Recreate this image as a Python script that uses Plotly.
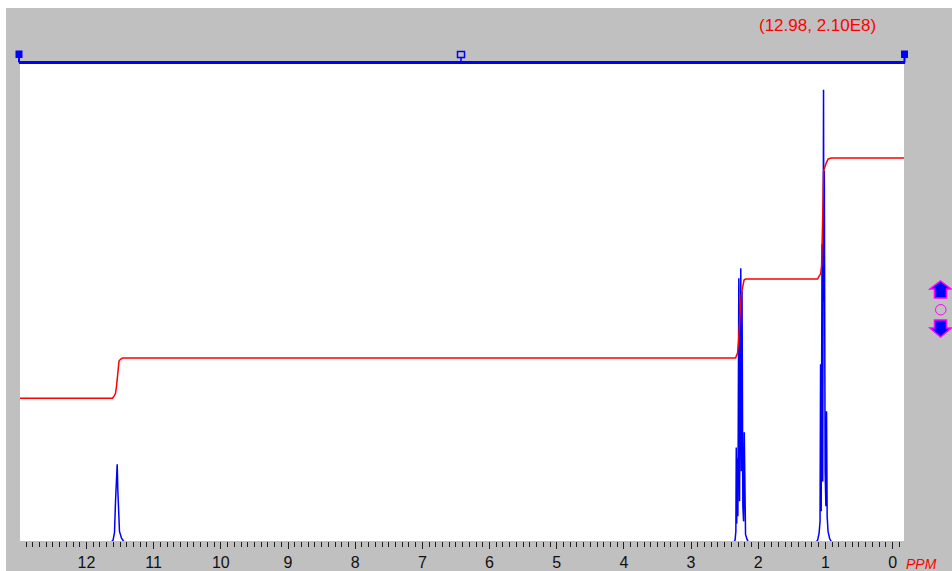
import plotly.graph_objects as go

# ---------------- data ----------------
# 1H NMR trace, chemical shift (ppm) vs intensity (units of 1e8)
cooh_ppm = [11.643, 11.605, 11.583, 11.568, 11.553, 11.543, 11.533, 11.524, 11.509, 11.479, 11.434]
cooh_int = [0.000, 0.009, 0.044, 0.180, 0.311, 0.342, 0.224, 0.114, 0.048, 0.018, 0.000]

ch2_ppm = [2.367, 2.345, 2.333, 2.327, 2.320, 2.312, 2.303, 2.289, 2.278, 2.269,
           2.260, 2.251, 2.241, 2.229, 2.218, 2.208, 2.199, 2.189, 2.166, 2.144]
ch2_int = [0.000, 0.009, 0.048, 0.416, 0.083, 0.368, 0.114, 1.157, 0.180, 1.057,
           1.201, 0.311, 1.100, 0.158, 0.092, 0.482, 0.083, 0.035, 0.013, 0.000]

ch3_ppm = [1.147, 1.117, 1.094, 1.080, 1.072, 1.063, 1.050, 1.040, 1.028, 1.022,
           1.016, 1.004, 0.993, 0.983, 0.974, 0.961, 0.938, 0.908]
ch3_int = [0.000, 0.009, 0.039, 0.092, 0.780, 0.136, 1.306, 0.267, 1.982, 1.057,
           1.626, 0.311, 0.158, 0.574, 0.114, 0.048, 0.018, 0.000]

# integral curve
integral_ppm = [12.99, 11.613, 11.591, 11.568, 11.553, 11.538, 11.531, 11.516, 11.494, 11.464,
                2.338, 2.323, 2.308, 2.293, 2.278, 2.263, 2.256, 2.241, 2.226, 2.211, 2.189,
                1.117, 1.094, 1.072, 1.057, 1.047, 1.035, 1.028, 1.013, 0.987, 0.958, 0.913, -0.17]
integral_val = [0.631, 0.631, 0.640, 0.653, 0.684, 0.728, 0.772, 0.794, 0.802, 0.807,
                0.807, 0.824, 0.829, 0.881, 0.969, 1.057, 1.078, 1.105, 1.135, 1.149, 1.153,
                1.153, 1.166, 1.175, 1.210, 1.306, 1.495, 1.626, 1.640, 1.662, 1.679, 1.683, 1.683]

tick_values = list(range(0, 13))
tick_labels = [str(v) for v in tick_values]

x_range = [12.99, -0.17]
y_range = [0.006, 2.095]

# full trace: baseline joined to each multiplet
spec_ppm = [12.99] + cooh_ppm + ch2_ppm + ch3_ppm + [-0.17]
spec_int = [0.0] + cooh_int + ch2_int + ch3_int + [0.0]

# ---------------- layout geometry (pixels) ----------------
FIG_W, FIG_H = 952, 571
PL, PR, PT, PB = 20, 904, 64, 541
PW, PH = PR - PL, PB - PT

def px(x):
    return (x - PL) / PW

def py(y):
    return (PB - y) / PH

BLUE = "#0000FF"
RED = "#FF0000"
MAGENTA = "#FF00FF"
GRAY = "#C0C0C0"

fig = go.Figure()

fig.add_trace(go.Scatter(x=spec_ppm, y=spec_int, mode="lines",
                         line=dict(color=BLUE, width=1.5), hoverinfo="skip",
                         showlegend=False))
fig.add_trace(go.Scatter(x=integral_ppm, y=integral_val, mode="lines",
                         line=dict(color=RED, width=1.5), hoverinfo="skip",
                         showlegend=False))

shapes = []
# white strips along top and left edge of the window
shapes.append(dict(type="rect", xref="paper", yref="paper", x0=px(0), x1=px(FIG_W),
                   y0=py(0), y1=py(8), fillcolor="white", line=dict(width=0), layer="below"))
shapes.append(dict(type="rect", xref="paper", yref="paper", x0=px(0), x1=px(6),
                   y0=py(0), y1=py(FIG_H), fillcolor="white", line=dict(width=0), layer="below"))

# range bar above the plot
shapes.append(dict(type="line", xref="paper", yref="paper", x0=px(19), x1=px(905),
                   y0=py(62.5), y1=py(62.5), line=dict(color=BLUE, width=3)))
for cx in (19, 904.5):
    shapes.append(dict(type="line", xref="paper", yref="paper", x0=px(cx), x1=px(cx),
                       y0=py(56), y1=py(62.5), line=dict(color=BLUE, width=2)))
    shapes.append(dict(type="rect", xref="paper", yref="paper", x0=px(cx - 3.5), x1=px(cx + 3.5),
                       y0=py(50.5), y1=py(58), fillcolor=BLUE, line=dict(color=BLUE, width=0)))
shapes.append(dict(type="line", xref="paper", yref="paper", x0=px(461), x1=px(461),
                   y0=py(57), y1=py(62.5), line=dict(color=BLUE, width=1.5)))
shapes.append(dict(type="rect", xref="paper", yref="paper", x0=px(457.5), x1=px(464.5),
                   y0=py(51.5), y1=py(57.5), fillcolor="rgba(0,0,0,0)", line=dict(color=BLUE, width=1.5)))

# vertical scale arrows on the right
def path(points):
    return "M " + " L ".join(f"{px(a):.5f},{py(b):.5f}" for a, b in points) + " Z"

up_arrow = [(940.5, 281), (951, 289), (946.5, 289), (946.5, 298), (934.5, 298), (934.5, 289), (930, 289)]
down_arrow = [(934.5, 320), (946.5, 320), (946.5, 328), (951, 328), (940.5, 337), (930, 328), (934.5, 328)]
for pts in (up_arrow, down_arrow):
    shapes.append(dict(type="path", xref="paper", yref="paper", path=path(pts),
                       fillcolor=BLUE, line=dict(color=MAGENTA, width=1.5)))
shapes.append(dict(type="circle", xref="paper", yref="paper", x0=px(935.5), x1=px(946),
                   y0=py(304.5), y1=py(315), fillcolor="rgba(0,0,0,0)",
                   line=dict(color=MAGENTA, width=1)))

annotations = [
    dict(text="(12.98, 2.10E8)", xref="paper", yref="paper", x=px(817), y=py(26),
         xanchor="center", yanchor="middle", showarrow=False,
         font=dict(family="Liberation Sans, Arial", size=17, color=RED)),
    dict(text="<i>PPM</i>", xref="paper", yref="paper", x=px(904), y=py(564),
         xanchor="left", yanchor="middle", showarrow=False,
         font=dict(family="Liberation Sans, Arial", size=14, color=RED)),
]

fig.update_layout(
    template="none",
    width=FIG_W, height=FIG_H,
    margin=dict(l=PL, r=FIG_W - PR, t=PT, b=FIG_H - PB, pad=0, autoexpand=False),
    paper_bgcolor=GRAY, plot_bgcolor="white",
    shapes=shapes, annotations=annotations,
    xaxis=dict(range=x_range, tickmode="array", tickvals=tick_values, ticktext=tick_labels,
               automargin=False,
               ticks="outside", ticklen=7, tickwidth=1, tickcolor="#202020",
               minor=dict(dtick=0.1, ticks="outside", ticklen=5, tickwidth=1, tickcolor="#202020",
                          showgrid=False),
               showgrid=False, zeroline=False, showline=False,
               tickfont=dict(family="Liberation Sans, Arial", size=16, color="#111111")),
    yaxis=dict(range=y_range, visible=False, showgrid=False, zeroline=False, automargin=False),
)

fig.write_html("out.html")
